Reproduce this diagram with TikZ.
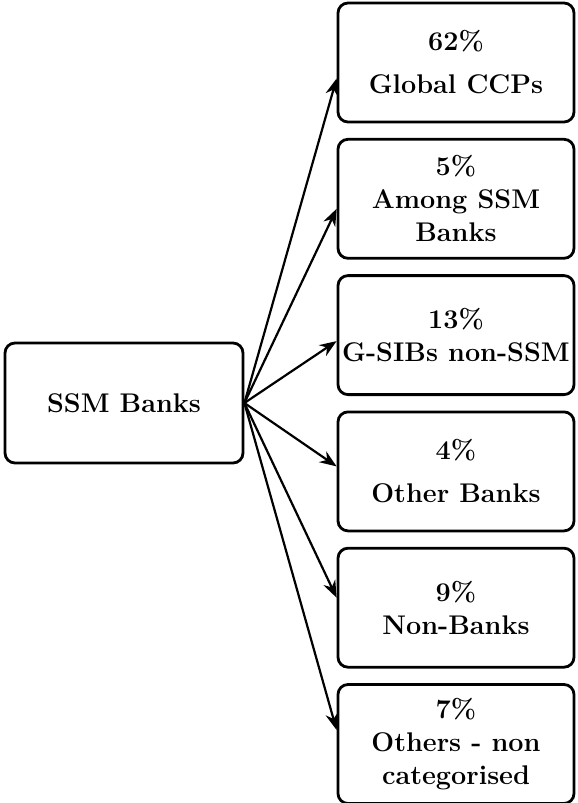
\documentclass[tikz,border=0pt]{standalone}
\usepackage{tikz}
\usetikzlibrary{positioning,arrows.meta}

\tikzset{
  sbox/.style={draw, line width=2.8pt, rounded corners=10pt, align=center,
    inner sep=0pt, minimum width=236pt, minimum height=119pt,
    font=\fontsize{27}{33}\selectfont\bfseries},
  arr/.style={-{Stealth[length=17pt,width=13pt]}, line width=2.2pt}
}

\begin{document}
\begin{tikzpicture}[x=1pt,y=-1pt]
  \useasboundingbox (0,0) rectangle (578,803);
  \node [sbox, minimum width=238pt, minimum height=120pt] (ssm) at (124,403) {SSM Banks};
  \node [sbox] (ccp) at (456,62.5) {62\%\\[10pt]Global CCPs};
  \node [sbox] (among) [below=14.5pt of ccp] {5\%\\Among SSM\\Banks};
  \node [sbox] (gsib) [below=14.5pt of among] {13\%\\G-SIBs non-SSM};
  \node [sbox] (other) [below=14.5pt of gsib] {4\%\\[10pt]Other Banks};
  \node [sbox] (nonbk) [below=14.5pt of other] {9\%\\Non-Banks};
  \node [sbox] (rest) [below=14.5pt of nonbk] {7\%\\Others - non\\categorised};
  \path[arr]
  (ssm.east) edge [] ([yshift=-16pt]ccp.west)
  (ssm.east) edge [] ([yshift=-10pt]among.west)
  (ssm.east) edge [] ([yshift=-6pt]gsib.west)
  (ssm.east) edge [] ([yshift=5pt]other.west)
  (ssm.east) edge [] ([yshift=10pt]nonbk.west)
  (ssm.east) edge [] ([yshift=14pt]rest.west);
\end{tikzpicture}
\end{document}
